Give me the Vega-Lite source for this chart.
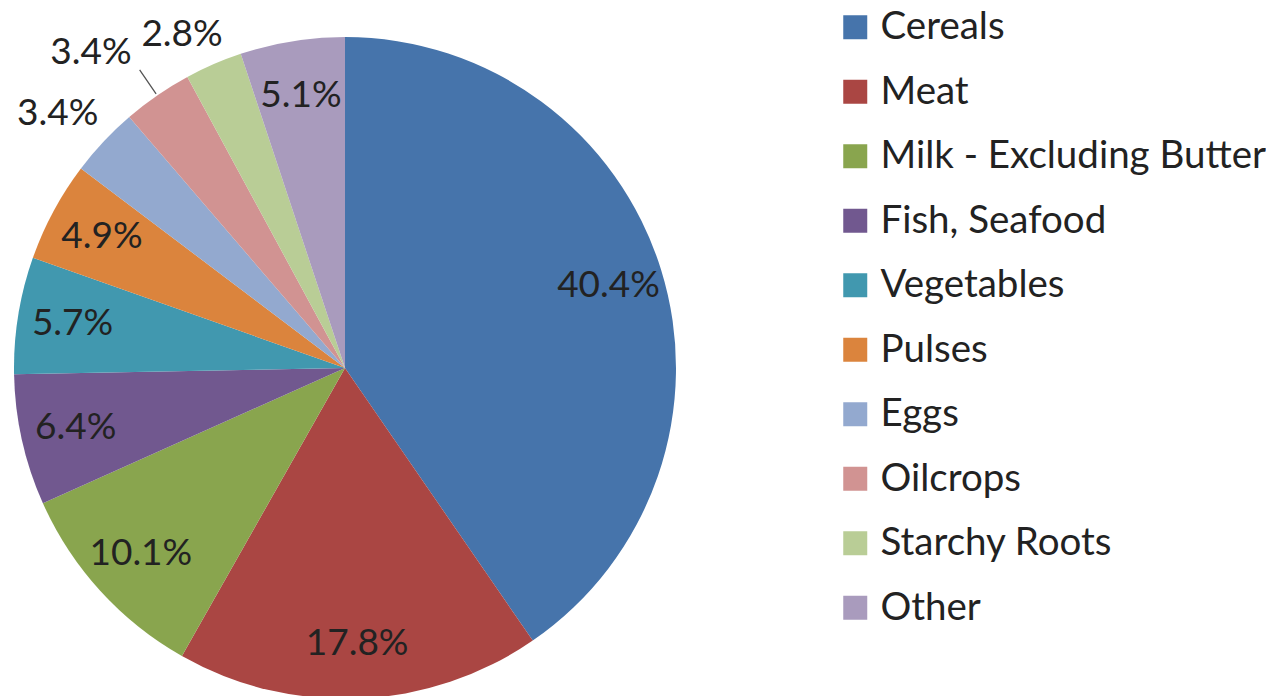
{
  "$schema": "https://vega.github.io/schema/vega-lite/v6.json",
  "width": 690,
  "height": 736,
  "padding": 0,
  "background": "white",
  "view": {"stroke": null},
  "data": {
    "values": [
      {"idx": 1, "category": "Cereals", "value": 40.4},
      {"idx": 2, "category": "Meat", "value": 17.8},
      {"idx": 3, "category": "Milk - Excluding Butter", "value": 10.1},
      {"idx": 4, "category": "Fish, Seafood", "value": 6.4},
      {"idx": 5, "category": "Vegetables", "value": 5.7},
      {"idx": 6, "category": "Pulses", "value": 4.9},
      {"idx": 7, "category": "Eggs", "value": 3.4},
      {"idx": 8, "category": "Oilcrops", "value": 3.4},
      {"idx": 9, "category": "Starchy Roots", "value": 2.8},
      {"idx": 10, "category": "Other", "value": 5.1}
    ]
  },
  "transform": [
    {"stack": "value", "groupby": [], "sort": [{"field": "idx", "order": "ascending"}], "as": ["v0", "v1"]},
    {"calculate": "(datum.v0 + datum.v1) / 2", "as": "mid"},
    {"calculate": "format(datum.value, '.1f') + '%'", "as": "label"}
  ],
  "layer": [
    {
      "mark": {"type": "arc", "outerRadius": 331},
      "encoding": {
        "theta": {"field": "v0", "type": "quantitative", "scale": {"domain": [0, 100]}},
        "theta2": {"field": "v1"},
        "color": {
          "field": "category",
          "type": "nominal",
          "sort": ["Cereals", "Meat", "Milk - Excluding Butter", "Fish, Seafood", "Vegetables", "Pulses", "Eggs", "Oilcrops", "Starchy Roots", "Other"],
          "scale": {
            "domain": ["Cereals", "Meat", "Milk - Excluding Butter", "Fish, Seafood", "Vegetables", "Pulses", "Eggs", "Oilcrops", "Starchy Roots", "Other"],
            "range": ["#4674AB", "#AA4643", "#89A54E", "#71588F", "#4198AF", "#DB843D", "#93A9CF", "#D19392", "#B9CD96", "#A99BBD"]
          },
          "legend": {
            "title": null,
            "orient": "none",
            "legendX": 836,
            "legendY": 8,
            "symbolType": "square",
            "symbolSize": 576,
            "symbolStrokeWidth": 0,
            "labelFont": "Lato",
            "labelFontSize": 38.5,
            "labelColor": "#222222",
            "labelOffset": 6,
            "labelLimit": 500,
            "rowPadding": 25.5
          }
        }
      }
    },
    {
      "transform": [{"filter": "datum.category == 'Oilcrops'"}],
      "mark": {"type": "arc", "innerRadius": 333, "outerRadius": 362, "stroke": "#555555", "strokeWidth": 1.3, "fill": null},
      "encoding": {
        "theta": {"field": "mid", "type": "quantitative", "scale": {"domain": [0, 100]}},
        "theta2": {"field": "mid"}
      }
    },
    {
      "transform": [{"filter": "datum.value >= 4"}],
      "mark": {"type": "text", "radius": 276, "font": "Lato", "fontSize": 37, "color": "#222222"},
      "encoding": {
        "theta": {"field": "mid", "type": "quantitative", "scale": {"domain": [0, 100]}},
        "text": {"field": "label", "type": "nominal"}
      }
    },
    {
      "transform": [{"filter": "datum.category == 'Eggs'"}],
      "mark": {"type": "text", "radius": 375, "dx": -14, "dy": 3, "font": "Lato", "fontSize": 37, "color": "#222222"},
      "encoding": {
        "theta": {"field": "mid", "type": "quantitative", "scale": {"domain": [0, 100]}},
        "text": {"field": "label", "type": "nominal"}
      }
    },
    {
      "transform": [{"filter": "datum.category == 'Starchy Roots'"}],
      "mark": {"type": "text", "radius": 375, "dx": -14, "dy": 11, "font": "Lato", "fontSize": 37, "color": "#222222"},
      "encoding": {
        "theta": {"field": "mid", "type": "quantitative", "scale": {"domain": [0, 100]}},
        "text": {"field": "label", "type": "nominal"}
      }
    },
    {
      "transform": [{"filter": "datum.category == 'Oilcrops'"}],
      "mark": {"type": "text", "radius": 362, "dx": -8, "dy": -6, "align": "right", "baseline": "alphabetic", "font": "Lato", "fontSize": 37, "color": "#222222"},
      "encoding": {
        "theta": {"field": "mid", "type": "quantitative", "scale": {"domain": [0, 100]}},
        "text": {"field": "label", "type": "nominal"}
      }
    }
  ]
}
